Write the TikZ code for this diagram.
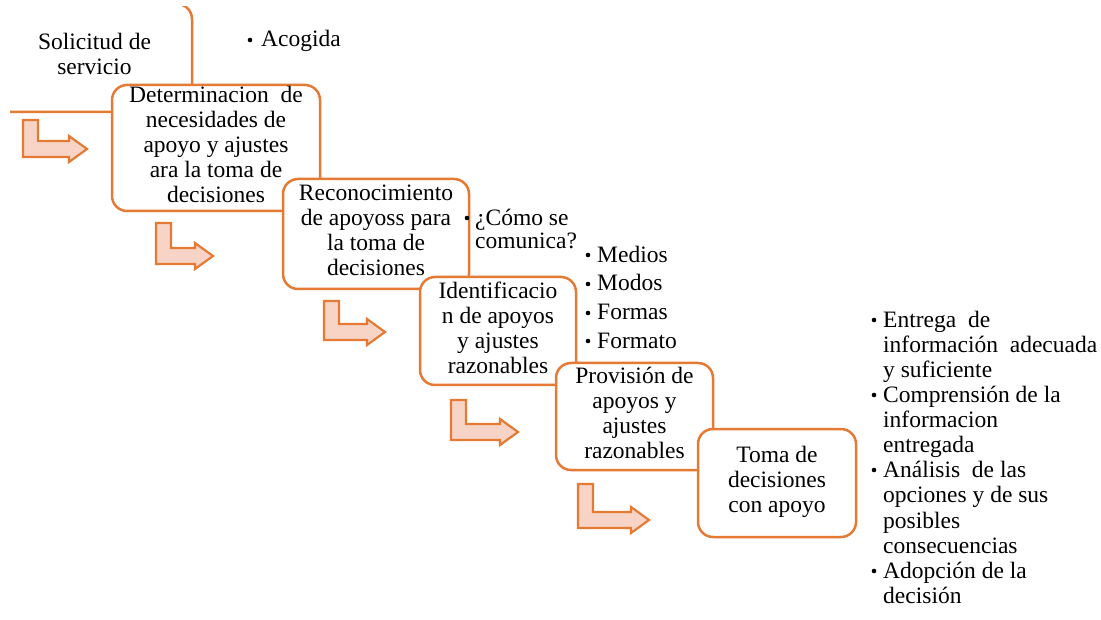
\documentclass[tikz,border=0pt]{standalone}
\usepackage{fontspec}
\setmainfont{Liberation Serif}
\definecolor{orng}{HTML}{E57A35}
\definecolor{pinkfill}{HTML}{F8D4C6}
\tikzset{
  box/.style={draw=orng, line width=2.5pt, fill=white, rounded corners=15pt,
    align=center, inner sep=0pt, font=\fontsize{23.5}{25}\selectfont,
    execute at begin node=\strut, execute at end node=\strut},
  txt/.style={inner sep=0pt, align=left, font=\fontsize{23.5}{25}\selectfont},
  bul/.style={circle, fill=black, inner sep=0pt, minimum size=4.6pt},
  arrowstyle/.style={draw=orng, fill=pinkfill, line width=2.2pt, line join=miter},
  pics/bentarrow/.style 2 args={code={
    \draw[arrowstyle] (0,0) -- (15,0) -- (15,#2-21) -- (#1-18,#2-21) -- (#1-18,#2-26)
      -- (#1,#2-13) -- (#1-18,#2) -- (#1-18,#2-5) -- (0,#2-5) -- cycle;}}
}
\begin{document}
\begin{tikzpicture}[x=1pt,y=-1pt]
\fill[white] (0,0) rectangle (1101,620);
\useasboundingbox (0,0) rectangle (1101,620);
% box 1 (clipped)
\begin{scope}
\clip (10,6.5) rectangle (400,200);
\node[box, minimum width=195pt, minimum height=108pt] (b1) at (94.5,58)
  {Solicitud de\\servicio};
\end{scope}
\node[bul] (u0) at (250,40) {};
\node[txt, anchor=base west] (acog) at (261,47) {Acogida};
% box 2
\node[box, minimum width=208pt, minimum height=126pt] (b2) at (216,148)
  {Determinacion\ \ de\\necesidades de\\apoyo y ajustes\\ara la toma de\\decisiones};
\pic (a1) at (23,120) {bentarrow={64}{42}};
% box 3
\node[box, minimum width=186pt, minimum height=110pt] (b3) at (376,234)
  {Reconocimiento\\de apoyoss para\\la toma de\\decisiones};
\pic (a2) at (156,223) {bentarrow={57}{46}};
\node[bul] (u1) at (467,218) {};
\node[txt, anchor=north west, font=\fontsize{23.5}{23}\selectfont] (como) at (475,204)
  {\rule{0pt}{21pt}¿Cómo se\\comunica?};
\node[bul] (u2) at (588,255) {};
\node[bul] (u3) at (588,284) {};
\node[bul] (u4) at (588,313) {};
\node[bul] (u5) at (588,341) {};
\node[txt, anchor=north west, font=\fontsize{23.5}{28.7}\selectfont] (medios) at (597,241)
  {\rule{0pt}{21pt}Medios\\Modos\\Formas\\Formato};
% box 4
\node[box, minimum width=156pt, minimum height=108pt] (b4) at (498,331)
  {Identificacio\\n de apoyos\\y ajustes\\razonables};
\pic (a3) at (324,301) {bentarrow={61}{44}};
% box 5
\node[box, minimum width=157pt, minimum height=107pt] (b5) at (634.5,416.5)
  {Provisión de\\apoyos y\\ajustes\\razonables};
\pic (a4) at (451,400) {bentarrow={67}{45}};
% box 6
\node[box, minimum width=158pt, minimum height=108pt] (b6) at (777,483)
  {Toma de\\decisiones\\con apoyo};
\pic (a5) at (578,484) {bentarrow={71}{49}};
% right list
\node[bul] (r1) at (874,320) {};
\node[bul] (r2) at (874,395) {};
\node[bul] (r3) at (874,470) {};
\node[bul] (r4) at (874,571) {};
\node[txt, anchor=north west, font=\fontsize{23.5}{25.1}\selectfont] (list) at (883,306)
  {\rule{0pt}{21pt}Entrega\ \ de\\información\ \ adecuada\\y suficiente\\Comprensión de la\\informacion\\entregada\\Análisis\ \ de las\\opciones y de sus\\posibles\\consecuencias\\Adopción de la\\decisión};
\end{tikzpicture}
\end{document}
